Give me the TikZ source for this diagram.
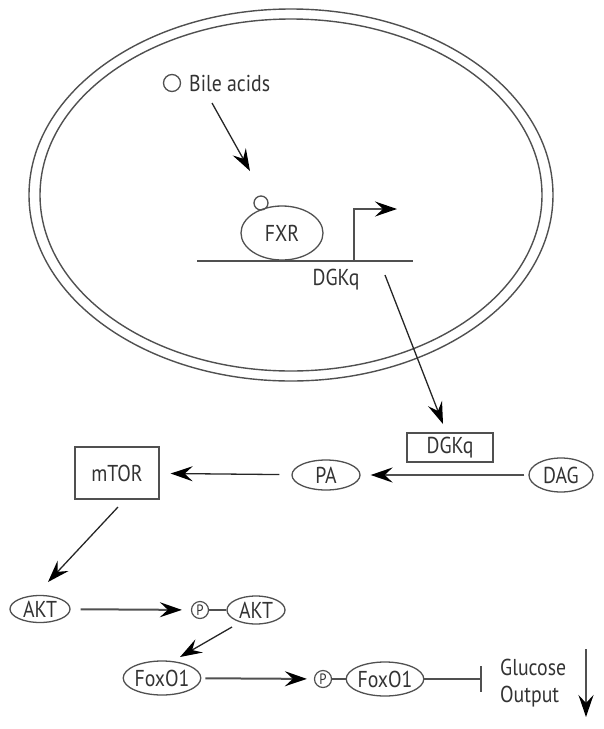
\documentclass[tikz,border=0pt]{standalone}
\usepackage{fontspec}
\setmainfont{PT Sans}[FakeStretch=0.86]
\usetikzlibrary{arrows.meta,shapes.geometric}
\definecolor{ln}{HTML}{505050}
\definecolor{tx}{HTML}{333333}
\begin{document}
\begin{tikzpicture}[x=1pt,y=-1pt,
  lbl/.style={font=\fontsize{23}{27}\selectfont, text=tx, inner sep=0pt},
  oval/.style={ellipse, draw=ln, line width=1.3pt, inner sep=0pt, font=\fontsize{23}{24}\selectfont, text=tx},
  boxn/.style={rectangle, draw=ln, line width=1.3pt, inner sep=0pt, font=\fontsize{23}{24}\selectfont, text=tx},
  pcirc/.style={circle, draw=ln, line width=1.2pt, inner sep=0pt, minimum size=17pt, font=\fontsize{15}{15}\selectfont, text=tx},
  tip/.style={-{Stealth[length=22pt,width=15pt,inset=8pt,color=black]}},
  arr/.style={tip, draw=black!85, line width=1.3pt},
  garr/.style={tip, draw=ln, line width=2pt},
  inh/.style={-{Bar[width=26pt,line width=2pt]}, draw=ln, line width=2pt}
]
\useasboundingbox (0,0) rectangle (604,729);

% cell membrane
\draw[ln, line width=1.4pt] (291,195) ellipse [x radius=262, y radius=186];
\draw[ln, line width=1.4pt] (291,195) ellipse [x radius=251, y radius=176];

% bile acids
\node[circle, draw=ln, line width=1.3pt, minimum size=17pt, inner sep=0pt] (bile) at (172,83) {};
\node[lbl, anchor=west] (biletxt) at (189,83) {Bile acids};
\coordinate (b1) at (212,103);
\coordinate (b2) at (250,171);
\draw[arr] (b1) -- (b2);

% FXR on DNA
\node[oval, minimum width=82pt, minimum height=54pt] (fxr) at (282,233) {FXR};
\node[circle, draw=ln, line width=1.3pt, minimum size=14pt, inner sep=0pt] (lig) at (261,203) {};
\coordinate (dnaL) at (197,261);
\coordinate (dnaR) at (413,261);
\draw[ln, line width=2.5pt] (dnaL) -- (dnaR);
\coordinate (tss) at (354,261);
\coordinate (tssend) at (397,209);
\draw[garr] (tss) |- (tssend);
\node[lbl] (gene) at (336,280) {DGKq};

% DGKq export
\coordinate (g1) at (385,275);
\coordinate (g2) at (443,424);
\draw[arr] (g1) -- (g2);

\node[boxn, minimum width=86pt, minimum height=29pt] (dgk) at (450,447.5) {DGKq};
\node[oval, minimum width=68pt, minimum height=30pt] (pa) at (326,475) {PA};
\node[oval, minimum width=64pt, minimum height=34pt] (dag) at (561,475) {DAG};
\draw[garr, shorten <=4pt, shorten >=10pt] (dag) -- (pa);

\node[boxn, minimum width=84pt, minimum height=52pt] (mtor) at (117,473) {mTOR};
\draw[arr, shorten <=12pt, shorten >=11pt] (pa) -- (mtor);

\coordinate (m1) at (118,507);
\coordinate (m2) at (48,582);
\draw[arr] (m1) -- (m2);

% AKT
\node[oval, minimum width=60pt, minimum height=27pt] (akt) at (40,609) {AKT};
\node[pcirc] (p1) at (200,610) {P};
\node[oval, minimum width=58pt, minimum height=28pt] (pakt) at (256,610) {AKT};
\draw[garr, shorten <=10pt, shorten >=9pt] (akt) -- (p1);
\draw[ln, line width=1.5pt] (p1) -- (pakt);

\coordinate (k1) at (232,627);
\coordinate (k2) at (180,657);
\draw[arr] (k1) -- (k2);

% FoxO1
\node[oval, minimum width=76pt, minimum height=34pt] (fox1) at (162,678) {FoxO1};
\node[pcirc] (p2) at (323,679) {P};
\node[oval, minimum width=74pt, minimum height=34pt] (fox2) at (385,679) {FoxO1};
\draw[garr, shorten <=4pt, shorten >=7pt] (fox1) -- (p2);
\draw[ln, line width=1.5pt] (p2) -- (fox2);
\coordinate (inhend) at (482,679);
\draw[inh] (fox2) -- (inhend);

\node[lbl, anchor=west, align=left] (glucose) at (500,683.5) {Glucose\\Output};
\coordinate (d1) at (586,649);
\coordinate (d2) at (586,717);
\draw[garr] (d1) -- (d2);
\end{tikzpicture}
\end{document}
